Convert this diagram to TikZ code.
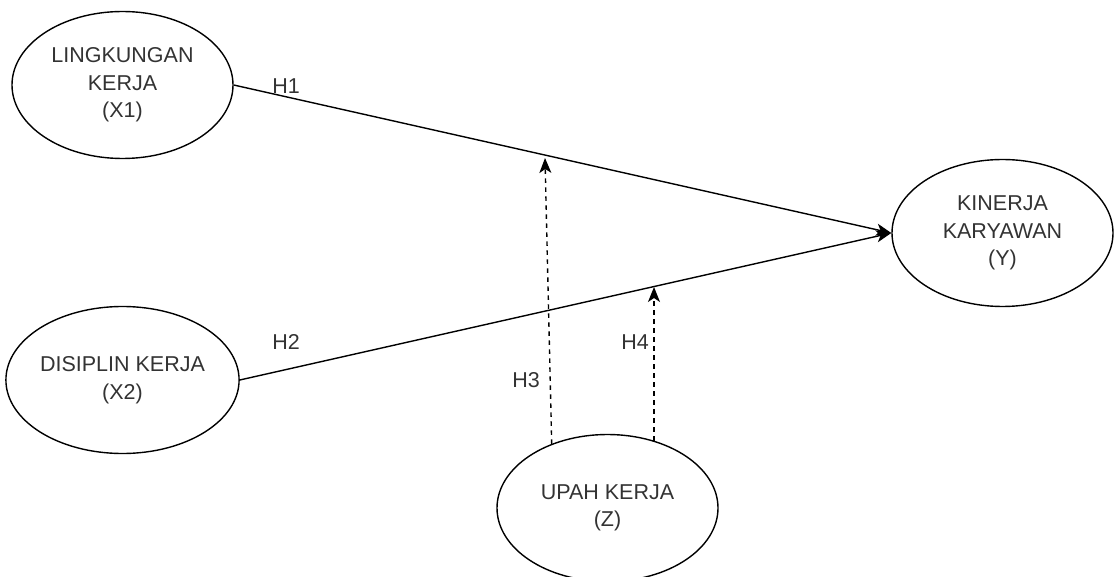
\documentclass[tikz,border=0pt]{standalone}
\usepackage{fontspec}
\setmainfont{Liberation Sans}
\usetikzlibrary{arrows.meta,shapes.geometric}
\definecolor{txt}{HTML}{333333}
\begin{document}
\begin{tikzpicture}[x=1pt,y=-1pt,
  var/.style={ellipse, draw, line width=1.4pt, minimum width=221pt,
    minimum height=147pt, inner sep=0pt, align=center,
    font=\fontsize{21.5}{27.5}\selectfont, text=txt},
  lbl/.style={font=\fontsize{21.5}{26}\selectfont, text=txt, inner sep=0pt},
  link/.style={line width=1.4pt, -{Stealth[length=15pt,width=12pt,inset=4pt]}},
  moder/.style={link, dash pattern=on 4.5pt off 4.5pt}]
\useasboundingbox (0,0) rectangle (1114,577);

% latent variables
\node[var] (x1) at (122.5,85) {LINGKUNGAN\\KERJA\\(X1)};
\node[var] (x2) at (122.5,380) {DISIPLIN KERJA\\(X2)};
\node[var] (y)  at (1002.5,233) {KINERJA\\KARYAWAN\\(Y)};
\node[var] (z)  at (607.5,508) {UPAH KERJA\\(Z)};

% direct paths
\draw[link] (x1.east) -- (y.west);
\draw[link] (x2.east) -- (y.west);

% moderating paths
\coordinate (h3tip) at (545,158);
\coordinate (h4tip) at (654,287);
\draw[moder] (z.131) -- (h3tip);
\draw[moder] (h4tip |- z.55) -- (h4tip);

% hypothesis labels
\node[lbl] (h1) at (286,86) {H1};
\node[lbl] (h2) at (286,342) {H2};
\node[lbl] (h3) at (526,380) {H3};
\node[lbl] (h4) at (635,342) {H4};
\end{tikzpicture}
\end{document}
